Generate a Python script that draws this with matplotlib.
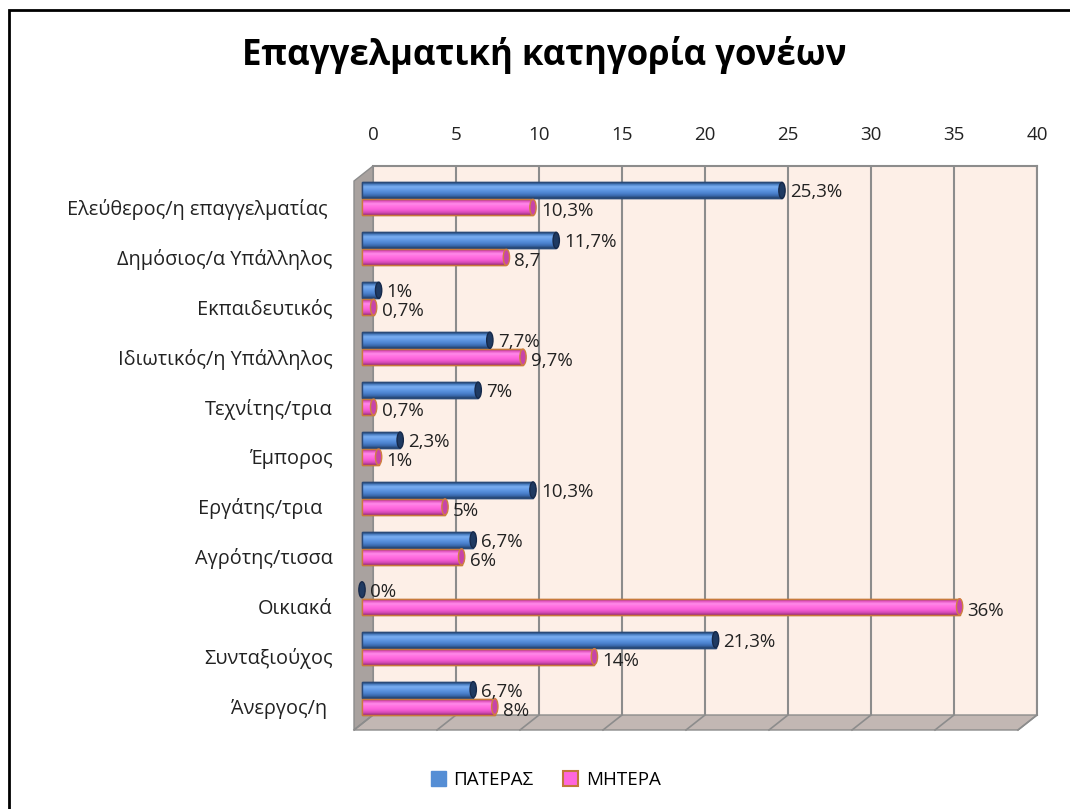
import numpy as np
import matplotlib
matplotlib.use("Agg")
import matplotlib.pyplot as plt
from matplotlib.patches import Polygon, Rectangle, Ellipse, Patch
from matplotlib.transforms import ScaledTranslation

plt.rcParams['font.family'] = ['Open Sans', 'Noto Sans', 'DejaVu Sans']

# data
categories = ['Ελεύθερος/η επαγγελματίας ', 'Δημόσιος/α Υπάλληλος', 'Εκπαιδευτικός',
              'Ιδιωτικός/η Υπάλληλος', 'Τεχνίτης/τρια', 'Έμπορος', 'Εργάτης/τρια  ',
              'Αγρότης/τισσα', 'Οικιακά', 'Συνταξιούχος', 'Άνεργος/η ']
father = [25.3, 11.7, 1, 7.7, 7, 2.3, 10.3, 6.7, 0, 21.3, 6.7]
mother = [10.3, 8.7, 0.7, 9.7, 0.7, 1, 5, 6, 36, 14, 8]
father_labels = ['25,3%', '11,7%', '1%', '7,7%', '7%', '2,3%', '10,3%', '6,7%', '0%', '21,3%', '6,7%']
mother_labels = ['10,3%', '8,7', '0,7%', '9,7%', '0,7%', '1%', '5%', '6%', '36%', '14%', '8%']
xticks = [0, 5, 10, 15, 20, 25, 30, 35, 40]
series_names = ['ΠΑΤΕΡΑΣ', 'ΜΗΤΕΡΑ']

W, H = 1070, 809
fig = plt.figure(figsize=(W / 100, H / 100), dpi=100)

# back wall of the pseudo 3d plot (pixels)
wl, wr, wt, wb = 373, 1037, 166, 715
ax = fig.add_axes([wl / W, 1 - wb / H, (wr - wl) / W, (wb - wt) / H])
ax.set_xlim(0, 40)
ax.set_ylim(len(categories) - 0.5, -0.5)
ax.set_facecolor('#fdefe7')
for s in ax.spines.values():
    s.set_color('#8c8c8c')
    s.set_linewidth(1.5)
ax.spines['left'].set_visible(False)
ax.spines['bottom'].set_visible(False)

# depth offset of the front plane (in axes fraction)
ddx = -19 / (wr - wl)
ddy = -15 / (wb - wt)

# side wall and floor
side = Polygon([(0, 1), (0, 0), (ddx, ddy), (ddx, 1 + ddy)], closed=True,
               transform=ax.transAxes, facecolor='#a9a29f', edgecolor='#8c8c8c',
               lw=1, clip_on=False, zorder=0.5)
floor = Polygon([(0, 0), (1, 0), (1 + ddx, ddy), (ddx, ddy)], closed=True,
                transform=ax.transAxes, facecolor='#c2b7b3', edgecolor='#8c8c8c',
                lw=1, clip_on=False, zorder=0.5)
ax.add_patch(side)
ax.add_patch(floor)

# gridlines on back wall and floor
for t in xticks:
    ax.axvline(t, color='#8c8c8c', lw=1.5, zorder=0.8)
    xa = t / 40
    ax.plot([xa, xa + ddx], [0, ddy], transform=ax.transAxes, color='#8c8c8c',
            lw=1.2, clip_on=False, zorder=0.9)

# ticks
ax.xaxis.tick_top()
ax.set_xticks(xticks)
ax.set_xticklabels([str(t) for t in xticks], fontsize=13.5, color='#222222')
ax.tick_params(axis='x', length=0, pad=16)
ax.set_yticks(range(len(categories)))
ax.set_yticklabels(categories, fontsize=14.3, color='#222222')
ax.tick_params(axis='y', length=0, pad=29)
lab_off = ScaledTranslation(0, -0.16, fig.dpi_scale_trans)
for lbl in ax.get_yticklabels():
    lbl.set_transform(lbl.get_transform() + lab_off)

# bars sit in the middle of the depth
bar_tr = ax.transData + ScaledTranslation(-0.11, -0.08, fig.dpi_scale_trans)
ypos = np.arange(len(categories))
bh = 0.32

blue_grad = ['#23406b', '#4a7fc4', '#7aaef0', '#6aa0ea', '#5890dc', '#4a80cc', '#3a6aae', '#24436f']
pink_grad = ['#a0307f', '#e458c4', '#ff8ae9', '#ff74e2', '#ff66dd', '#f05ad0', '#d44ab5', '#9a2f7c']


def draw_bars(vals, yc, grad, edge, cap_col, cap_edge):
    cmap = matplotlib.colors.LinearSegmentedColormap.from_list('g', grad)
    img = np.linspace(0, 1, 64).reshape(-1, 1)
    for v, y in zip(vals, yc):
        if v > 0:
            b = ax.barh(y, v, height=bh, color=grad[4], edgecolor=edge, lw=1,
                        transform=bar_tr, zorder=2, clip_on=False)[0]
            im = ax.imshow(img, cmap=cmap, aspect='auto', extent=[0, v, y + bh / 2, y - bh / 2],
                           transform=bar_tr, zorder=2.1, interpolation='bilinear')
            im.set_clip_path(b)
            ax.add_patch(Rectangle((0, y - bh / 2), v, bh, transform=bar_tr, fill=False,
                                   edgecolor=edge, lw=1, zorder=2.2, clip_on=False))
        ax.add_patch(Ellipse((v, y), 0.38, bh, transform=bar_tr, facecolor=cap_col,
                             edgecolor=cap_edge, lw=1, zorder=2.3, clip_on=False))


draw_bars(father, ypos - 0.17, blue_grad, '#2a4a78', '#1f3a62', '#16294a')
draw_bars(mother, ypos + 0.17, pink_grad, '#c87a3c', '#c845a8', '#d08040')
ax.set_xlim(0, 40)
ax.set_ylim(len(categories) - 0.5, -0.5)

# data labels
for v, y, t in zip(father, ypos - 0.17, father_labels):
    ax.annotate(t, (v, y), xycoords=bar_tr, xytext=(8, -2), textcoords='offset pixels',
                ha='left', va='center', fontsize=13.5, color='#222222', zorder=3)
for v, y, t in zip(mother, ypos + 0.17, mother_labels):
    ax.annotate(t, (v, y), xycoords=bar_tr, xytext=(8, -4), textcoords='offset pixels',
                ha='left', va='center', fontsize=13.5, color='#222222', zorder=3)

# title
fig.text(0.509, 1 - 55 / H, 'Επαγγελματική κατηγορία γονέων', ha='center', va='center',
         fontsize=25, fontweight='bold', color='black')

# legend
handles = [Patch(facecolor='#558ed5', edgecolor='#558ed5'),
           Patch(facecolor='#ff66dd', edgecolor='#c0783a', lw=1.5)]
fig.legend(handles, series_names, loc='center', bbox_to_anchor=(0.51, 1 - 780 / H),
           ncol=2, frameon=False, fontsize=13.5, handlelength=0.8, handleheight=0.8,
           handletextpad=0.4, columnspacing=1.6)

# outer frame
fig.patches.append(Rectangle((9 / W, -0.05), 1.2, 1 - 10 / H + 0.05, transform=fig.transFigure,
                             fill=False, edgecolor='black', lw=2))

fig.savefig('out.png', dpi=100)
